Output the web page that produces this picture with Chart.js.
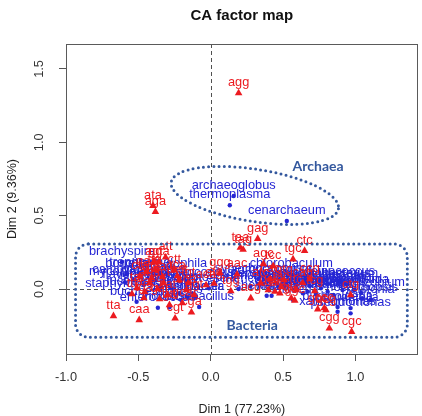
<!DOCTYPE html>
<html>
<head>
<meta charset="utf-8">
<script src="https://cdn.jsdelivr.net/npm/chart.js@4.4.1/dist/chart.umd.min.js"></script>
<style>
  html, body { margin: 0; padding: 0; background: #ffffff; }
  canvas { display: block; }
</style>
</head>
<body>
<canvas id="camap" width="422" height="416"></canvas>
<script>
// Codons (column profiles) on the first two CA dimensions
const codonNames = [
  'agg','ata','aga','gag','taa','tag','ctc','tgc','agc','tcc','ggg','aac','atg','tgg','acg',
  'tta','caa','cgt','cga','cgg','cgc','att','gga','agt',
  'gtc','ggc','gcc','ccc','gcg','cag','ccg','tcg','gtg','cac','gac','acc','gct','ctg',
  'aaa','aag','aat','aca','act','cat','cca','cct','cta','ctt','gaa','gat','gca','ggt','gta',
  'gtt','tat','tca','tct','tga','tgt','ttg','ttt','atc','ttc','tac'
];
const codonDim1 = [
  0.193,-0.399,-0.382,0.325,0.205,0.224,0.649,0.569,0.364,0.432,0.064,0.182,0.023,0.139,0.277,
  -0.672,-0.494,-0.246,-0.133,0.820,0.974,-0.312,-0.358,-0.392,
  0.557,0.581,0.740,0.785,0.796,0.637,0.685,0.719,0.507,0.412,0.444,0.478,0.398,0.967,
  -0.421,-0.333,-0.456,-0.032,-0.217,-0.298,-0.169,-0.367,-0.490,-0.251,-0.442,-0.353,-0.196,-0.114,-0.408,
  -0.285,-0.510,-0.230,-0.326,-0.462,-0.155,-0.387,-0.544,0.344,0.589,0.487
];
const codonDim2 = [
  1.335,0.568,0.527,0.343,0.282,0.269,0.261,0.203,0.171,0.157,0.111,0.100,0.038,-0.014,-0.063,
  -0.184,-0.211,-0.200,-0.159,-0.268,-0.291,0.216,0.186,0.186,
  -0.063,-0.078,-0.138,-0.130,-0.143,0.041,0.068,-0.014,0.061,0.068,-0.018,-0.029,-0.007,-0.041,
  0.041,0.082,-0.020,0.027,0.061,-0.041,-0.007,0.000,0.089,0.130,0.116,-0.068,-0.095,-0.041,0.075,
  -0.109,0.007,0.089,0.041,-0.061,0.041,0.130,-0.034,0.041,-0.007,0.014
];

// Genomes (row profiles)
const genomeNames = [
  'brachyspira','borrelia','chlamydophila','campylobacter','flavobacterium','staphylococcus',
  'enterococcus','lactobacillus','bacillus','clostridium','helicobacter','fusobacterium',
  'streptococcus','listeria','rickettsia','buchnera','mycoplasma','treponema','wolbachia',
  'leptospira','bacteroides','prochlorococcus',
  'agrobacterium','aeromonas','chlorobaculum','escherichia','salmonella','shewanella','vibrio',
  'geobacter','synechococcus',
  'deinococcus','bradyrhizobium','nocardiopsis','xanthomonas','pseudomonas','ralstonia',
  'burkholderia','bordetella','streptomyces','mycobacterium','thermus','caulobacter',
  'rhodobacter','corynebacterium','frankia','sinorhizobium','methylobacterium',
  'rhodopseudomonas','azotobacter','thermobifida','neisseria',
  'archaeoglobus','thermoplasma','cenarchaeum'
];
const genomeDim1 = [
  -0.613,-0.581,-0.307,-0.531,-0.462,-0.565,-0.365,-0.080,-0.203,-0.273,-0.160,-0.444,
  -0.353,-0.217,-0.285,-0.512,-0.592,-0.490,-0.102,-0.012,-0.387,-0.162,
  0.419,0.361,0.557,0.193,0.275,0.387,0.421,0.501,0.330,
  0.890,1.040,1.047,0.877,0.967,1.104,0.877,0.967,0.808,0.762,0.945,0.671,
  0.726,0.637,0.849,0.911,0.808,0.685,0.589,0.990,0.569,
  0.159,0.132,0.526
];
const genomeDim2 = [
  0.184,0.100,0.104,0.061,0.027,-0.032,-0.128,-0.123,-0.075,0.005,-0.053,-0.018,
  0.016,-0.029,-0.125,-0.087,0.046,0.107,-0.053,0.005,0.061,0.041,
  0.061,0.034,0.100,0.000,0.020,-0.046,-0.046,0.014,0.068,
  0.048,-0.027,-0.063,-0.155,-0.166,-0.075,-0.123,-0.130,-0.018,0.005,0.034,-0.018,
  -0.034,-0.029,-0.041,-0.007,0.034,0.020,0.007,-0.007,-0.075,
  0.634,0.571,0.464
];

// Axis ticks
const dim1Ticks = [-1.0, -0.5, 0.0, 0.5, 1.0];
const dim2Ticks = [0.0, 0.5, 1.0, 1.5];
const dim1Range = [-1.0, 1.43];
const dim2Range = [-0.443, 1.67];

// Group outlines, in Dim 1 / Dim 2 units
const archaeaEllipse = { cx: 0.305, cy: 0.638, rx: 0.585, ry: 0.178, tiltDeg: -9 };
const bacteriaFrame = { x0: -0.934, x1: 1.359, y0: -0.329, y1: 0.307 };
const groupNames = ['Archaea', 'Bacteria'];
const groupDim1 = [0.742, 0.287];
const groupDim2 = [0.834, -0.246];

const RED = 'rgb(236,26,32)';
const BLUE = 'rgb(38,38,212)';
const GROUP_BLUE = 'rgb(52,88,158)';
const SANS = '"Liberation Sans", Arial, sans-serif';

const toPoints = (xs, ys) => xs.map((v, i) => ({ x: v, y: ys[i] }));

// Text labels placed just above each mark, drawn right after that dataset
const pointLabels = {
  id: 'pointLabels',
  afterDatasetDraw(chart, args) {
    const ds = chart.data.datasets[args.index];
    if (!ds.names) return;
    const ctx = chart.ctx;
    ctx.save();
    ctx.font = '12.8px ' + SANS;
    ctx.fillStyle = ds.labelColor;
    ctx.textAlign = 'center';
    ctx.textBaseline = 'alphabetic';
    args.meta.data.forEach((el, i) => {
      ctx.fillText(ds.names[i], el.x, el.y - 7);
    });
    ctx.restore();
  }
};

// Plot box and the dashed origin lines
const frame = {
  id: 'frame',
  beforeDatasetsDraw(chart) {
    const { ctx, chartArea: a, scales: { x, y } } = chart;
    ctx.save();
    ctx.strokeStyle = '#505050';
    ctx.lineWidth = 1;
    ctx.setLineDash([4, 3]);
    const x0 = Math.round(x.getPixelForValue(0)) + 0.5;
    const y0 = Math.round(y.getPixelForValue(0)) + 0.5;
    ctx.beginPath();
    ctx.moveTo(x0, a.top); ctx.lineTo(x0, a.bottom);
    ctx.moveTo(a.left, y0); ctx.lineTo(a.right, y0);
    ctx.stroke();
    ctx.setLineDash([]);
    ctx.strokeStyle = '#5a5a5a';
    const l = Math.round(a.left) + 0.5, t = Math.round(a.top) + 0.5;
    const r = Math.round(a.right) - 0.5, b = Math.round(a.bottom) + 0.5;
    ctx.strokeRect(l, t, r - l, b - t);
    ctx.restore();
  }
};

// Dotted outlines around the two domains and their names
const groups = {
  id: 'groups',
  afterDraw(chart) {
    const { ctx, scales: { x, y } } = chart;
    ctx.save();
    ctx.strokeStyle = GROUP_BLUE;
    ctx.lineWidth = 3;
    ctx.lineCap = 'round';
    ctx.setLineDash([0, 5.2]);

    const e = archaeaEllipse;
    const cx = x.getPixelForValue(e.cx), cy = y.getPixelForValue(e.cy);
    const rx = Math.abs(x.getPixelForValue(e.cx + e.rx) - cx);
    const ry = Math.abs(y.getPixelForValue(e.cy + e.ry) - cy);
    ctx.beginPath();
    ctx.ellipse(cx, cy, rx, ry, -e.tiltDeg * Math.PI / 180, 0, Math.PI * 2);
    ctx.stroke();

    const f = bacteriaFrame;
    const L = x.getPixelForValue(f.x0), R = x.getPixelForValue(f.x1);
    const T = y.getPixelForValue(f.y1), B = y.getPixelForValue(f.y0);
    const rad = 13;
    ctx.beginPath();
    ctx.moveTo(L + rad, T);
    ctx.lineTo(R - rad, T);
    ctx.arcTo(R, T, R, T + rad, rad);
    ctx.lineTo(R, B - rad);
    ctx.arcTo(R, B, R - rad, B, rad);
    ctx.lineTo(L + rad, B);
    ctx.arcTo(L, B, L, B - rad, rad);
    ctx.lineTo(L, T + rad);
    ctx.arcTo(L, T, L + rad, T, rad);
    ctx.closePath();
    ctx.stroke();

    ctx.setLineDash([]);
    ctx.fillStyle = GROUP_BLUE;
    ctx.font = 'bold 14px Lato, "Open Sans", sans-serif';
    ctx.textAlign = 'center';
    ctx.textBaseline = 'middle';
    groupNames.forEach((name, i) => {
      ctx.fillText(name, x.getPixelForValue(groupDim1[i]), y.getPixelForValue(groupDim2[i]));
    });
    ctx.restore();
  }
};

new Chart(document.getElementById('camap'), {
  type: 'scatter',
  data: {
    datasets: [
      {
        label: 'genomes',
        data: toPoints(genomeDim1, genomeDim2),
        names: genomeNames,
        labelColor: BLUE,
        pointStyle: 'circle',
        pointRadius: 2.2,
        backgroundColor: BLUE,
        borderWidth: 0,
        order: 2
      },
      {
        label: 'codons',
        data: toPoints(codonDim1, codonDim2),
        names: codonNames,
        labelColor: RED,
        pointStyle: 'triangle',
        pointRadius: 4.4,
        backgroundColor: RED,
        borderWidth: 0,
        order: 1
      }
    ]
  },
  options: {
    responsive: false,
    animation: false,
    devicePixelRatio: 1,
    events: [],
    layout: { padding: { left: 0, right: 0, top: 0, bottom: 0 } },
    plugins: {
      legend: { display: false },
      tooltip: { enabled: false },
      title: {
        display: true,
        text: 'CA factor map',
        fullSize: false,
        color: '#111111',
        font: { family: SANS, size: 15, weight: 'bold', lineHeight: 1.2 },
        padding: { top: 7, bottom: 19 }
      }
    },
    scales: {
      x: {
        type: 'linear',
        position: 'bottom',
        min: dim1Range[0],
        max: dim1Range[1],
        afterBuildTicks: s => { s.ticks = dim1Ticks.map(v => ({ value: v })); },
        afterFit: s => { s.height = 62; },
        ticks: {
          callback: v => Number(v).toFixed(1),
          color: '#333333',
          font: { family: SANS, size: 12.8, lineHeight: 1.2 },
          padding: 8.5,
          maxRotation: 0,
          autoSkip: false
        },
        grid: { drawOnChartArea: false, drawTicks: true, tickLength: 7, color: '#555555', lineWidth: 1 },
        border: { display: false },
        title: {
          display: true,
          text: 'Dim 1 (77.23%)',
          color: '#222222',
          font: { family: SANS, size: 12.5, lineHeight: 1 },
          padding: { top: 0, bottom: 0 }
        }
      },
      y: {
        type: 'linear',
        position: 'left',
        min: dim2Range[0],
        max: dim2Range[1],
        afterBuildTicks: s => { s.ticks = dim2Ticks.map(v => ({ value: v })); },
        afterFit: s => { s.width = 66; },
        ticks: {
          callback: v => Number(v).toFixed(1),
          color: '#333333',
          font: { family: SANS, size: 12.8, lineHeight: 1.2 },
          padding: 11,
          minRotation: 90,
          maxRotation: 90,
          crossAlign: 'center',
          autoSkip: false
        },
        grid: { drawOnChartArea: false, drawTicks: true, tickLength: 7, color: '#555555', lineWidth: 1 },
        border: { display: false },
        title: {
          display: true,
          text: 'Dim 2 (9.36%)',
          color: '#222222',
          font: { family: SANS, size: 12.5, lineHeight: 1 },
          padding: { top: 6.3, bottom: 0 }
        }
      }
    }
  },
  plugins: [frame, pointLabels, groups]
});
</script>
</body>
</html>
